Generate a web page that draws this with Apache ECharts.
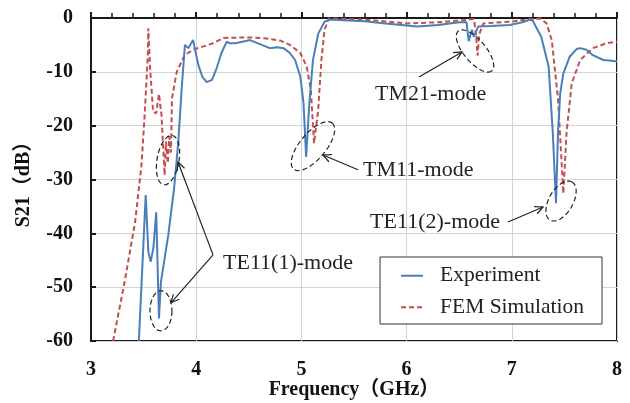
<!DOCTYPE html>
<html>
<head>
<meta charset="utf-8">
<script src="https://cdn.jsdelivr.net/npm/echarts@6/dist/echarts.min.js"></script>
<style>
  html, body { margin: 0; padding: 0; background: #fff; }
  #chart { width: 630px; height: 403px; }
</style>
</head>
<body>
<div id="chart"></div>
<script>
// measured S21 (blue, solid)
var expFreq = [3.455, 3.52, 3.545, 3.567, 3.593, 3.62, 3.646, 3.665, 3.735, 3.79, 3.83, 3.862, 3.893, 3.925, 3.97, 4.02, 4.06, 4.10, 4.15, 4.195, 4.24, 4.29, 4.32, 4.37, 4.44, 4.51, 4.60, 4.70, 4.77, 4.83, 4.89, 4.94, 4.99, 5.02, 5.045, 5.075, 5.11, 5.16, 5.22, 5.27, 5.4, 5.6, 5.8, 6.0, 6.1, 6.3, 6.5, 6.57, 6.59, 6.62, 6.64, 6.68, 6.8, 6.98, 7.1, 7.17, 7.20, 7.22, 7.28, 7.35, 7.39, 7.42, 7.44, 7.46, 7.49, 7.55, 7.62, 7.65, 7.71, 7.77, 7.87, 7.93, 8.0];
var expS21 = [-60, -32.9, -43.4, -45.3, -42.7, -36.1, -55.8, -49, -40.3, -31.6, -23, -13.1, -5.0, -5.6, -4.1, -8.7, -11, -11.9, -11.5, -9.3, -6.5, -4.4, -4.7, -4.7, -4.4, -4.1, -4.8, -5.6, -5.45, -5.6, -6.5, -7.8, -10.9, -15.8, -25.8, -16, -7.8, -2.9, -0.7, -0.3, -0.4, -0.6, -1.0, -1.4, -1.6, -1.3, -0.8, -0.8, -4.3, -2.2, -3.5, -1.6, -1.5, -1.3, -0.8, -0.3, -0.5, -1.3, -3.5, -9.0, -21.4, -34.4, -21, -14, -10.3, -7.2, -5.7, -5.6, -5.9, -6.9, -7.8, -7.9, -8.1];

// FEM simulation S21 (red, dashed)
var simFreq = [3.21, 3.32, 3.42, 3.48, 3.51, 3.54, 3.545, 3.56, 3.59, 3.62, 3.646, 3.67, 3.70, 3.713, 3.73, 3.745, 3.76, 3.77, 3.815, 3.89, 3.97, 4.16, 4.26, 4.51, 4.67, 4.80, 4.89, 4.99, 5.05, 5.09, 5.12, 5.16, 5.19, 5.22, 5.26, 5.3, 5.6, 6.0, 6.3, 6.54, 6.64, 6.66, 6.675, 6.69, 6.73, 6.98, 7.17, 7.27, 7.33, 7.38, 7.44, 7.49, 7.52, 7.57, 7.65, 7.77, 7.90, 8.0];
var simS21 = [-60, -49, -37.8, -27.3, -18, -6.9, -1.9, -8.7, -17.4, -17.7, -14.1, -18, -29.2, -23, -27, -22, -25, -14.9, -10, -6.9, -5.9, -4.7, -3.7, -3.6, -3.8, -4.2, -5.0, -6.5, -9, -13.4, -23.3, -17, -7.8, -2.2, -0.1, -0.1, -0.3, -1.0, -0.8, -0.4, -0.2, -3, -7.0, -3, -1.0, -0.7, -0.2, -0.1, -1.0, -4.1, -15.2, -32.6, -21.4, -12.1, -7.8, -5.6, -4.7, -4.4];

var xTicks = [3, 4, 5, 6, 7, 8];
var yTicks = [-60, -50, -40, -30, -20, -10, 0];

// annotations: mode labels, arrows (text -> mode), dashed ellipses around modes
var modeLabels = [
  [4.255, -45.5, 'TE11(1)-mode', 'left'],
  [5.586, -28.2, 'TM11-mode', 'left'],
  [5.70, -14.1, 'TM21-mode', 'left'],
  [6.888, -37.9, 'TE11(2)-mode', 'right']
];
var modeArrows = [
  [4.16, -44.0, 3.827, -26.75],
  [4.16, -44.0, 3.76, -52.9],
  [5.538, -28.2, 5.205, -25.45],
  [6.118, -10.96, 6.527, -6.3],
  [6.964, -37.9, 7.297, -35.1]
];
// center x, center y, semi-axis a (px), semi-axis b (px), tilt (deg)
var modeRings = [
  [3.732, -26.4, 11, 25, -10],
  [3.665, -54.4, 11, 20, 0],
  [5.11, -23.8, 30, 13, 50],
  [6.65, -6.13, 26, 11, -50],
  [7.468, -34.0, 22, 12, 60]
];

function pairs(xs, ys) {
  return xs.map(function (x, i) { return [x, ys[i]]; });
}

var serif = '"Liberation Serif", "Times New Roman", "Noto Sans CJK JP", serif';
var chart = echarts.init(document.getElementById('chart'));

chart.setOption({
  animation: false,
  grid: {left: 91, right: 13, top: 18, bottom: 62, outerBoundsMode: 'none', containLabel: false,
    show: true, borderColor: '#1a1a1a', borderWidth: 2},
  legend: {
    right: 28, top: 257, orient: 'vertical',
    data: ['Experiment', 'FEM Simulation'],
    backgroundColor: '#fff', borderColor: '#333', borderWidth: 1,
    padding: [8, 18, 6, 20], itemGap: 10, itemWidth: 22, itemHeight: 14,
    itemStyle: {opacity: 0},
    textStyle: {fontFamily: serif, fontSize: 21.5, color: '#222', lineHeight: 20, padding: [0, 0, 0, 12]}
  },
  xAxis: {
    type: 'value', min: 3, max: 8, interval: 1,
    name: 'Frequency（GHz）', nameLocation: 'middle', nameGap: 39, nameMoveOverlap: false,
    nameTextStyle: {fontFamily: serif, fontSize: 20, fontWeight: 'bold', color: '#111'},
    axisLine: {lineStyle: {color: '#1a1a1a', width: 2}},
    axisTick: {inside: true, length: 6, lineStyle: {color: '#1a1a1a', width: 2}},
    minorTick: {show: true, splitNumber: 5, length: 5, lineStyle: {color: '#1a1a1a', width: 1.5}},
    splitLine: {show: true, lineStyle: {color: '#d4d4d4', width: 1}},
    axisLabel: {margin: 19, fontFamily: serif, fontSize: 20, fontWeight: 'bold', color: '#111',
      formatter: function (v) { return xTicks.indexOf(v) >= 0 ? String(v) : ''; }}
  },
  yAxis: {
    type: 'value', min: -60, max: 0, interval: 10,
    name: 'S21（dB）', nameLocation: 'middle', nameGap: 57,
    nameTextStyle: {fontFamily: serif, fontSize: 20, fontWeight: 'bold', color: '#111'},
    axisLine: {lineStyle: {color: '#1a1a1a', width: 2}},
    axisTick: {inside: true, length: 5, lineStyle: {color: '#1a1a1a', width: 2}},
    splitLine: {show: true, lineStyle: {color: '#d4d4d4', width: 1}},
    axisLabel: {margin: 18, fontFamily: serif, fontSize: 20, fontWeight: 'bold', color: '#111',
      formatter: function (v) { return yTicks.indexOf(v) >= 0 ? String(v) : ''; }}
  },
  series: [
    {
      name: 'Experiment', type: 'line', symbol: 'none', z: 3,
      data: pairs(expFreq, expS21),
      lineStyle: {color: '#4a7ebb', width: 2}, itemStyle: {color: '#4a7ebb'}
    },
    {
      name: 'FEM Simulation', type: 'line', symbol: 'none', z: 2,
      data: pairs(simFreq, simS21),
      lineStyle: {color: '#c0504d', width: 2, type: [5, 3]}, itemStyle: {color: '#c0504d'}
    },
    {
      type: 'custom', silent: true, z: 4, clip: false,
      data: modeRings,
      renderItem: function (params, api) {
        var c = api.coord([api.value(0), api.value(1)]);
        var a = api.value(2), b = api.value(3), t = api.value(4) * Math.PI / 180;
        var pts = [];
        for (var i = 0; i < 60; i++) {
          var s = i / 60 * Math.PI * 2;
          var ex = a * Math.cos(s), ey = b * Math.sin(s);
          pts.push([c[0] + ex * Math.cos(t) + ey * Math.sin(t), c[1] - ex * Math.sin(t) + ey * Math.cos(t)]);
        }
        return {type: 'polygon', shape: {points: pts},
          style: {fill: 'none', stroke: '#222', lineWidth: 1.2, lineDash: [5, 3]}};
      }
    },
    {
      type: 'custom', silent: true, z: 4, clip: false,
      data: modeArrows,
      renderItem: function (params, api) {
        var p1 = api.coord([api.value(0), api.value(1)]);
        var p2 = api.coord([api.value(2), api.value(3)]);
        var ang = Math.atan2(p2[1] - p1[1], p2[0] - p1[0]);
        var h = 9, w = 0.45;
        var head = [
          [p2[0] - h * Math.cos(ang - w), p2[1] - h * Math.sin(ang - w)],
          p2,
          [p2[0] - h * Math.cos(ang + w), p2[1] - h * Math.sin(ang + w)]
        ];
        return {type: 'group', children: [
          {type: 'line', shape: {x1: p1[0], y1: p1[1], x2: p2[0], y2: p2[1]}, style: {stroke: '#222', lineWidth: 1.2}},
          {type: 'polyline', shape: {points: head}, style: {stroke: '#222', lineWidth: 1.2, fill: 'none'}}
        ]};
      }
    },
    {
      type: 'custom', silent: true, z: 5, clip: false,
      data: modeLabels.map(function (d) { return [d[0], d[1]]; }),
      renderItem: function (params, api) {
        var d = modeLabels[params.dataIndex];
        var p = api.coord([d[0], d[1]]);
        return {type: 'text', x: p[0], y: p[1],
          style: {text: d[2], align: d[3], verticalAlign: 'middle', fill: '#222',
            font: 'normal 22px ' + serif}};
      }
    }
  ]
});
</script>
</body>
</html>
